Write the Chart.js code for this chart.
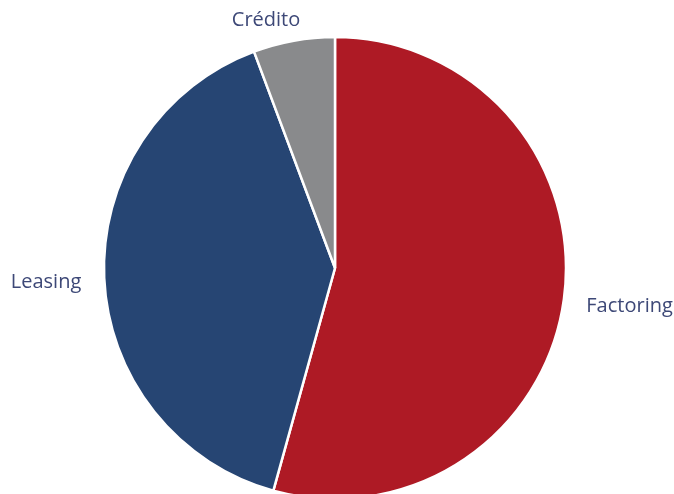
<!DOCTYPE html>
<html>
<head>
<meta charset="utf-8">
<script src="https://cdn.jsdelivr.net/npm/chart.js@4.4.1/dist/chart.umd.min.js"></script>
<style>
  html, body { margin: 0; padding: 0; background: #ffffff; overflow: hidden; }
  #wrap { position: relative; width: 674px; height: 520px; }
</style>
</head>
<body>
<div id="wrap"><canvas id="chart"></canvas></div>
<script>
// Share of each product line
const categories = ['Factoring', 'Leasing', 'Crédito'];
const shares = [54.3, 40.0, 5.7];
const sliceColors = ['#AE1A25', '#264573', '#898A8C'];

const LABEL_FONT = '20px "Open Sans", "DejaVu Sans", sans-serif';
const LABEL_COLOR = '#3d4877';
const LABEL_GAP = 23;
const LABEL_BASELINE_SHIFT = 3;

// Category names drawn outside each slice, kept inside the visible area
const outsideLabels = {
  id: 'outsideLabels',
  afterDatasetsDraw(chart) {
    const ctx = chart.ctx;
    const meta = chart.getDatasetMeta(0);
    const minTop = 7;
    ctx.save();
    ctx.font = LABEL_FONT;
    ctx.fillStyle = LABEL_COLOR;
    ctx.textAlign = 'center';
    ctx.textBaseline = 'middle';
    meta.data.forEach((arc, i) => {
      const { x, y, startAngle, endAngle, outerRadius } = arc.getProps(['x', 'y', 'startAngle', 'endAngle', 'outerRadius'], true);
      const mid = (startAngle + endAngle) / 2;
      const dx = Math.cos(mid), dy = Math.sin(mid);
      const text = chart.data.labels[i];
      const w = ctx.measureText(text).width;
      const h = 20;
      const rr = outerRadius + LABEL_GAP;
      let cx = x + dx * rr + dx * w / 2;
      let cy = y + dy * rr + dy * h / 2;
      if (cy - h / 2 < minTop) {
        // slide along the circle until the label fits below the top edge
        const rc = Math.hypot(cx - x, cy - y) - 4.5;
        cy = minTop + h / 2;
        const off = Math.sqrt(Math.max(rc * rc - (cy - y) * (cy - y), 0));
        cx = x + Math.sign(dx) * off;
      }
      ctx.fillText(text, cx, cy + LABEL_BASELINE_SHIFT);
    });
    ctx.restore();
  }
};

new Chart(document.getElementById('chart'), {
  type: 'pie',
  data: {
    labels: categories,
    datasets: [{
      data: shares,
      backgroundColor: sliceColors,
      borderColor: '#ffffff',
      borderWidth: 2.5,
      hoverOffset: 0
    }]
  },
  options: {
    responsive: true,
    maintainAspectRatio: false,
    animation: false,
    radius: 231,
    layout: { padding: { top: 37, bottom: 21, left: 104, right: 108 } },
    plugins: {
      legend: { display: false },
      tooltip: { enabled: false }
    }
  },
  plugins: [outsideLabels]
});
</script>
</body>
</html>
